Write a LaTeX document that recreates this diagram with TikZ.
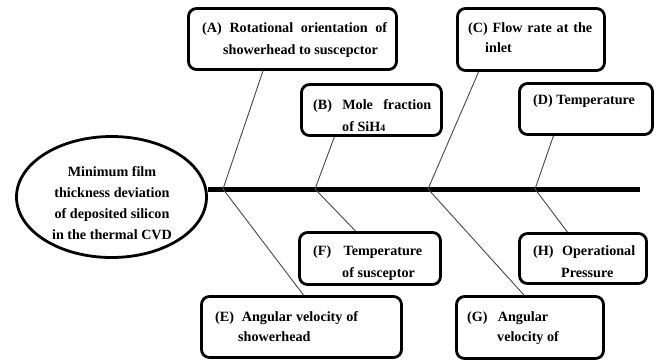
\documentclass[tikz,border=0pt]{standalone}
\usepackage{fontspec}
\setmainfont{Liberation Serif}
\usetikzlibrary{shapes.geometric,calc}
\tikzset{
  boxnode/.style={draw, line width=2.8bp, rounded corners=8bp, inner sep=0pt},
  txt/.style={inner sep=0pt, align=left, anchor=base west, font=\fontsize{14.2}{21.5}\selectfont\bfseries},
  branch/.style={line width=0.9bp, draw=black!72},
  spine/.style={line width=5bp, line cap=butt},
}
\begin{document}
\begin{tikzpicture}[x=1bp, y=-1bp]
\useasboundingbox (0,0) rectangle (661,363);
% root ellipse
\node[draw, ellipse, line width=2.8bp, minimum width=190bp, minimum height=121bp, inner sep=0pt] (root) at (111.5,197) {};
\node[inner sep=0pt, align=center, anchor=base, font=\fontsize{14.2}{21}\selectfont\bfseries] (roottxt) at (112,239)
  {Minimum film\\thickness deviation\\of deposited silicon\\in the thermal CVD};
% spine
\coordinate (spineEnd) at (640,189);
\draw[spine] (root.east |- spineEnd) -- (spineEnd);
\coordinate (jA) at (223,189);
\coordinate (jB) at (315,189);
\coordinate (jC) at (428,189);
\coordinate (jD) at (535,189);
% boxes
\node[boxnode, minimum width=208bp, minimum height=61bp] (A) at (292.5,39) {};
\node[boxnode, minimum width=140bp, minimum height=51bp] (B) at (371.5,110) {};
\node[boxnode, minimum width=147bp, minimum height=62bp] (C) at (531,39.5) {};
\node[boxnode, minimum width=133bp, minimum height=51bp] (D) at (586,109) {};
\node[boxnode, minimum width=200bp, minimum height=61bp] (E) at (301.5,327) {};
\node[boxnode, minimum width=141bp, minimum height=52bp] (F) at (370,258.5) {};
\node[boxnode, minimum width=147bp, minimum height=62bp] (G) at (530,327.5) {};
\node[boxnode, minimum width=127bp, minimum height=50bp] (H) at (583,258.5) {};
% texts (anchor base = baseline of last line)
\node[txt] (At) at (202,54) {\makebox[185bp][s]{(A) Rotational orientation of}\\\hspace*{21bp}showerhead to suscepctor};
\node[txt] (Bt) at (313,131) {\makebox[118bp][s]{(B) Mole fraction}\\[0.5bp]\hspace*{29bp}of SiH{\fontsize{10}{10}\selectfont 4}};
\node[txt] (Ct) at (468,52) {\makebox[124bp][s]{(C) Flow rate at the}\\[-1.5bp]\hspace*{17bp}inlet};
\node[txt] (Dt) at (533,104) {(D) Temperature};
\node[txt] (Et) at (215,341) {\makebox[143bp][s]{(E) \ Angular velocity of}\\[-1.5bp]\hspace*{23bp}showerhead};
\node[txt] (Ft) at (313,277) {\makebox[109bp][s]{(F) Temperature}\\\hspace*{29bp}of susceptor};
\node[txt] (Gt) at (467,341) {\makebox[81bp][s]{(G) Angular}\\[-1.5bp]\hspace*{30bp}velocity of};
\node[txt] (Ht) at (533,277) {\makebox[102bp][s]{(H) Operational}\\\hspace*{28bp}Pressure};
% branches
\draw[branch] (jA) -- ($(A.south west)!0.36!(A.south east)$);
\draw[branch] (jA) -- ($(E.north west)!0.51!(E.north east)$);
\draw[branch] (jB) -- ($(B.south west)!0.24!(B.south east)$);
\draw[branch] (jB) -- ($(F.north west)!0.40!(F.north east)$);
\draw[branch] (jC) -- ($(C.south west)!0.15!(C.south east)$);
\draw[branch] (jC) -- ($(G.north west)!0.46!(G.north east)$);
\draw[branch] (jD) -- ($(D.south west)!0.26!(D.south east)$);
\draw[branch] (jD) -- ($(H.north west)!0.38!(H.north east)$);
\end{tikzpicture}
\end{document}
